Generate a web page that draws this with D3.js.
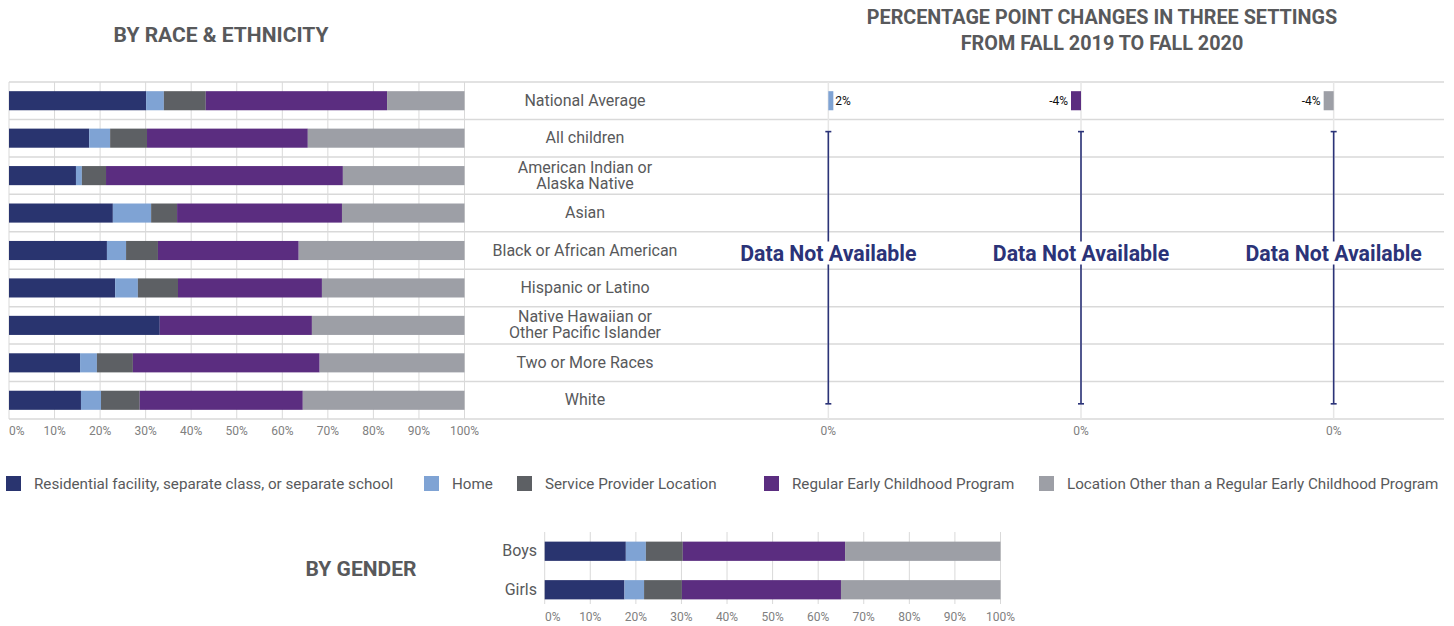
<!DOCTYPE html>
<html>
<head>
<meta charset="utf-8">
<script src="https://cdn.jsdelivr.net/npm/d3@7"></script>
<style>
  body { margin: 0; background: #fff; }
  svg { display: block; font-family: Roboto, "Noto Sans", sans-serif; }
</style>
</head>
<body>
<div id="chart"></div>
<script>
// ---- data ----
var settings = ["Residential facility, separate class, or separate school", "Home", "Service Provider Location", "Regular Early Childhood Program", "Location Other than a Regular Early Childhood Program"];
var races = ["National Average", "All children", "American Indian or|Alaska Native", "Asian", "Black or African American", "Hispanic or Latino", "Native Hawaiian or|Other Pacific Islander", "Two or More Races", "White"];
var residential = [30.1, 17.6, 14.7, 22.8, 21.5, 23.3, 33.1, 15.6, 15.8];
var home        = [3.9, 4.6, 1.3, 8.4, 4.2, 5.0, 0, 3.7, 4.4];
var serviceLoc  = [9.2, 8.1, 5.3, 5.7, 7.0, 8.8, 0, 7.9, 8.5];
var regularEC   = [39.8, 35.3, 52.0, 36.2, 30.9, 31.6, 33.4, 41.0, 35.8];
var otherLoc    = [17.0, 34.4, 26.7, 26.9, 36.4, 31.3, 33.5, 31.8, 35.5];

var genders = ["Boys", "Girls"];
var gResidential = [17.8, 17.5];
var gHome        = [4.4, 4.3];
var gServiceLoc  = [8.1, 8.3];
var gRegularEC   = [35.6, 34.9];
var gOtherLoc    = [34.1, 35.0];

var changeSettings = ["Home", "Regular Early Childhood Program", "Location Other than a Regular Early Childhood Program"];
var changeNational = [2, -4, -4];
var pctTicks = [0, 10, 20, 30, 40, 50, 60, 70, 80, 90, 100];

var colors = ["#29346f", "#7fa3d4", "#5d6064", "#5b2d80", "#9d9fa6"];
var textGray = "#58595b", tickGray = "#808080", gridGray = "#d9d9d9", navy = "#2b3378";

var svg = d3.select("#chart").append("svg").attr("width", 1454).attr("height", 626);

// stack helper
function stackRows(names, cols) {
  return names.map(function(n, i) {
    var row = {name: n}, acc = 0;
    row.parts = cols.map(function(c, k) {
      var p = {k: k, x0: acc, x1: acc + c[i]};
      acc += c[i];
      return p;
    });
    return row;
  });
}

// ---- titles ----
svg.append("text").attr("x", 221).attr("y", 42).attr("text-anchor", "middle")
  .attr("font-size", 21).attr("font-weight", 700).attr("fill", textGray).text("BY RACE & ETHNICITY");
svg.append("text").attr("x", 1102).attr("y", 24).attr("text-anchor", "middle")
  .attr("font-size", 19.8).attr("font-weight", 700).attr("fill", textGray).text("PERCENTAGE POINT CHANGES IN THREE SETTINGS");
svg.append("text").attr("x", 1102).attr("y", 50).attr("text-anchor", "middle")
  .attr("font-size", 19.8).attr("font-weight", 700).attr("fill", textGray).text("FROM FALL 2019 TO FALL 2020");
svg.append("text").attr("x", 361).attr("y", 576).attr("text-anchor", "middle")
  .attr("font-size", 21).attr("font-weight", 700).attr("fill", textGray).text("BY GENDER");

// ---- race chart ----
var x = d3.scaleLinear().domain([0, 100]).range([9, 464.5]);
var y = d3.scaleBand().domain(races).range([82, 419]).paddingInner(0.49).paddingOuter(0.245);
var half = (y.step() - y.bandwidth()) / 2;

// vertical gridlines
svg.append("g").selectAll("line").data(pctTicks).enter().append("line")
  .attr("x1", function(d) { return x(d); }).attr("x2", function(d) { return x(d); })
  .attr("y1", 82).attr("y2", 419).attr("stroke", gridGray).attr("stroke-width", 1);

// row separators across the whole table
var seps = races.map(function(r) { return y(r) - half; }).concat([y(races[races.length - 1]) + y.bandwidth() + half]);
svg.append("g").selectAll("line").data(seps).enter().append("line")
  .attr("x1", 9).attr("x2", 1444).attr("y1", function(d) { return d; }).attr("y2", function(d) { return d; })
  .attr("stroke", gridGray).attr("stroke-width", 1.5);

var raceRows = stackRows(races, [residential, home, serviceLoc, regularEC, otherLoc]);
var rowG = svg.append("g").selectAll("g").data(raceRows).enter().append("g");
rowG.selectAll("rect").data(function(d) { return d.parts.map(function(p) { p.name = d.name; return p; }); })
  .enter().append("rect")
  .attr("x", function(p) { return x(p.x0); })
  .attr("width", function(p) { return Math.max(0, x(p.x1) - x(p.x0)); })
  .attr("y", function(p) { return y(p.name); })
  .attr("height", y.bandwidth())
  .attr("fill", function(p) { return colors[p.k]; });

// x axis labels
svg.append("g").selectAll("text").data(pctTicks).enter().append("text")
  .attr("x", function(d) { return x(d); })
  .attr("y", 435).attr("font-size", 12).attr("fill", tickGray)
  .attr("text-anchor", function(d) { return d == 0 ? "start" : "middle"; })
  .text(function(d) { return d + "%"; });

// category labels
var lab = svg.append("g").selectAll("text").data(races).enter().append("text")
  .attr("text-anchor", "middle").attr("font-size", 16).attr("fill", textGray)
  .attr("y", function(d) { return y(d) + y.bandwidth() / 2 + 5; });
lab.each(function(d) {
  var parts = d.split("|");
  var t = d3.select(this);
  parts.forEach(function(p, i) {
    t.append("tspan").attr("x", 585)
      .attr("dy", i == 0 ? (parts.length > 1 ? -8 : 0) : 16).text(p);
  });
});

// ---- change panel ----
var col = d3.scaleBand().domain(changeSettings).range([702, 1460]);
var cx = d3.scaleLinear().domain([-50, 50]).range([-125, 125]);
var changeColors = [colors[1], colors[3], colors[4]];

changeSettings.forEach(function(s, i) {
  var z = col(s) + col.bandwidth() / 2;
  var g = svg.append("g").attr("transform", "translate(" + z + ",0)");
  g.append("line").attr("x1", cx(0)).attr("x2", cx(0)).attr("y1", 82).attr("y2", 419)
    .attr("stroke", "#e6e6e6").attr("stroke-width", 1.5);
  var v = changeNational[i];
  g.append("rect").attr("x", Math.min(cx(0), cx(v))).attr("width", Math.abs(cx(v) - cx(0)))
    .attr("y", y(races[0])).attr("height", y.bandwidth()).attr("fill", changeColors[i]);
  g.append("text").attr("x", v >= 0 ? cx(v) + 2 : cx(v) - 3)
    .attr("y", y(races[0]) + y.bandwidth() / 2 + 4)
    .attr("text-anchor", v >= 0 ? "start" : "end").attr("font-size", 12).attr("fill", "#111")
    .text(v + "%");
  // not available marker
  var top = y(races[1]) + 3, bot = y(races[races.length - 1]) + y.bandwidth() - 6;
  g.append("line").attr("x1", cx(0)).attr("x2", cx(0)).attr("y1", top).attr("y2", bot)
    .attr("stroke", navy).attr("stroke-width", 1.6);
  [top, bot].forEach(function(yy) {
    g.append("line").attr("x1", cx(0) - 3).attr("x2", cx(0) + 3).attr("y1", yy).attr("y2", yy)
      .attr("stroke", navy).attr("stroke-width", 1.6);
  });
  var ty = y(races[4]) + y.bandwidth() / 2 + 10;
  var t = g.append("text").attr("x", cx(0)).attr("y", ty).attr("text-anchor", "middle")
    .attr("font-size", 21.3).attr("font-weight", 700).attr("fill", navy).text("Data Not Available");
  var bb = t.node().getBBox();
  g.insert("rect", "text:last-child").attr("x", bb.x - 2).attr("y", bb.y + 1)
    .attr("width", bb.width + 4).attr("height", bb.height - 2).attr("fill", "#fff");
  t.raise();
  g.append("text").attr("x", cx(0)).attr("y", 435).attr("text-anchor", "middle")
    .attr("font-size", 12).attr("fill", tickGray).text("0%");
});

// ---- legend ----
var legendX = [6, 424, 517, 764, 1039];
var lg = svg.append("g").selectAll("g").data(settings).enter().append("g")
  .attr("transform", function(d, i) { return "translate(" + legendX[i] + ",476)"; });
lg.append("rect").attr("width", 15).attr("height", 15).attr("fill", function(d, i) { return colors[i]; });
lg.append("text").attr("x", 28).attr("y", 12.5).attr("font-size", 15.2).attr("fill", textGray)
  .text(function(d) { return d; });

// ---- gender chart ----
var gx = d3.scaleLinear().domain([0, 100]).range([544.7, 1000.5]);
var gy = d3.scaleBand().domain(genders).range([532, 609]).paddingInner(0.5).paddingOuter(0.25);

svg.append("g").selectAll("line").data(pctTicks).enter().append("line")
  .attr("x1", function(d) { return gx(d); }).attr("x2", function(d) { return gx(d); })
  .attr("y1", 532).attr("y2", 604).attr("stroke", gridGray).attr("stroke-width", 1);

var genderRows = stackRows(genders, [gResidential, gHome, gServiceLoc, gRegularEC, gOtherLoc]);
svg.append("g").selectAll("g").data(genderRows).enter().append("g")
  .selectAll("rect").data(function(d) { return d.parts.map(function(p) { p.name = d.name; return p; }); })
  .enter().append("rect")
  .attr("x", function(p) { return gx(p.x0); })
  .attr("width", function(p) { return Math.max(0, gx(p.x1) - gx(p.x0)); })
  .attr("y", function(p) { return gy(p.name); })
  .attr("height", gy.bandwidth())
  .attr("fill", function(p) { return colors[p.k]; });

svg.append("g").selectAll("text").data(genders).enter().append("text")
  .attr("x", 537).attr("y", function(d) { return gy(d) + gy.bandwidth() / 2 + 5; })
  .attr("text-anchor", "end").attr("font-size", 16).attr("fill", textGray).text(function(d) { return d; });

svg.append("g").selectAll("text").data(pctTicks).enter().append("text")
  .attr("x", function(d) { return gx(d) + (d == 0 ? 8 : 0); })
  .attr("y", 621).attr("text-anchor", "middle").attr("font-size", 12).attr("fill", tickGray)
  .text(function(d) { return d + "%"; });
</script>
</body>
</html>
